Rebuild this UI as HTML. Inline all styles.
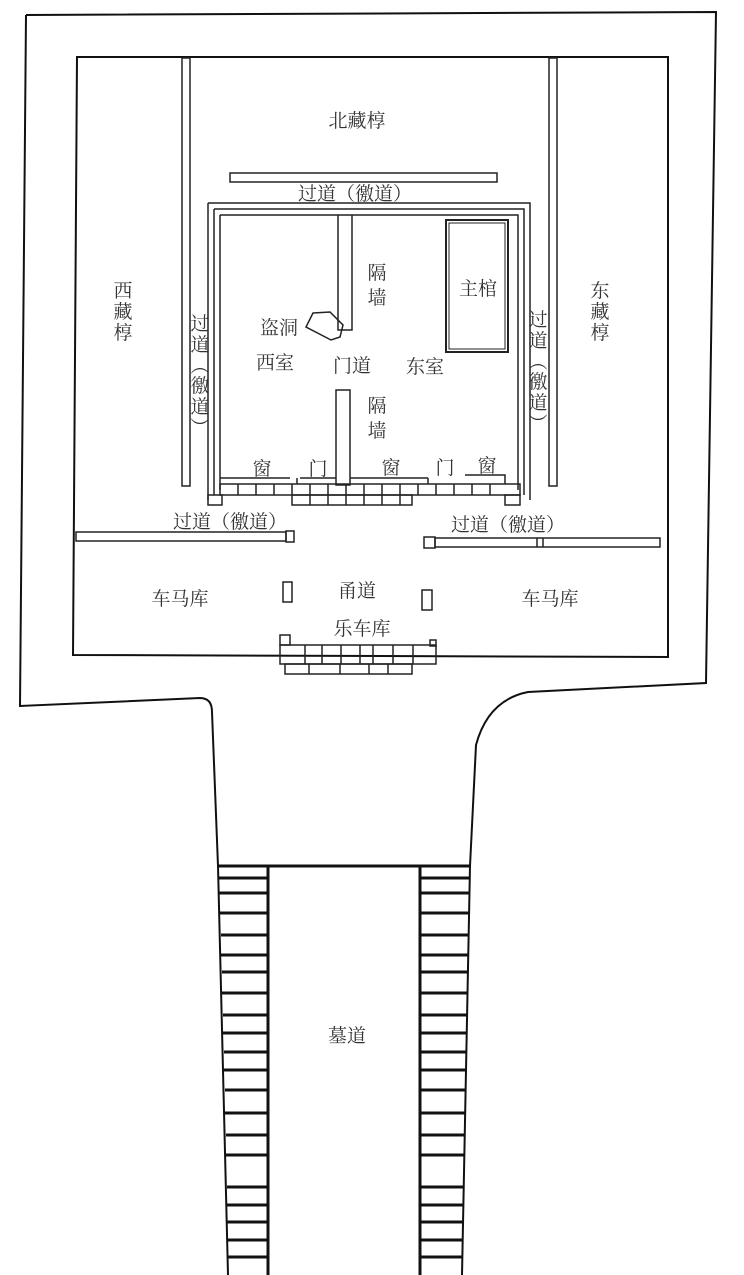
<!DOCTYPE html>
<html><head><meta charset="utf-8"><style>
html,body{margin:0;padding:0;background:#fff}
svg{display:block}
text{font-family:"Liberation Serif","Noto Serif CJK SC",serif;font-size:19px;fill:#333}
</style></head><body>
<svg width="744" height="1275" viewBox="0 0 744 1275" xmlns="http://www.w3.org/2000/svg">
<g fill="none" stroke="#111" stroke-width="2">
<path d="M26,15 L716,12 L706,683 L528,692 Q488,700 476,745 L470,866 L462,1275"/>
<path d="M26,15 L20,706 L200,698 Q212,698 212,712 L218,866 L228,1275"/>
<path d="M77,57 L668,57 L668,657 L73,655 Z"/>
</g>
<g fill="none" stroke="#222" stroke-width="1.5">
<rect x="182" y="58" width="8" height="428"/>
<rect x="549" y="58" width="8" height="428"/>
<rect x="230" y="173" width="267" height="9"/>
<path d="M208,203 L530,203 L530,500 M208,500 L208,203"/>
<path d="M214,209 L524,209 L524,495 M214,495 L214,209"/>
<path d="M220,215 L518,215 L518,490 M220,490 L220,215"/>
<rect x="446" y="220" width="62" height="132" stroke-width="2"/>
<rect x="449" y="223" width="56" height="126" stroke-width="1"/>
<path d="M338,215 L338,330 L352,330 L352,215"/>
<rect x="336" y="390" width="14" height="95"/>
<path d="M313,313 L330,312 L343,325 L340,337 L331,340 L306,327 Z"/>
<rect x="220" y="484" width="300" height="11"/>
<path d="M220,478 L290,478 M300,478 L336,478 M350,478 L428,478 M465,475 L505,475 L505,484 M297,478 L297,484 M428,478 L428,484"/>
<rect x="292" y="495" width="120" height="10"/>
<rect x="208" y="495" width="14" height="10"/>
<rect x="505" y="495" width="15" height="10"/>
<path d="M238,484v11M256,484v11M274,484v11M292,484v11M310,484v21M328,484v21M346,484v21M364,484v21M382,484v21M400,484v21M418,484v11M436,484v11M454,484v11M472,484v11M490,484v11"/>
<rect x="76" y="532" width="210" height="9"/>
<rect x="286" y="531" width="8" height="11"/>
<rect x="435" y="538" width="225" height="9"/>
<rect x="424" y="537" width="11" height="11"/>
<path d="M537,538v9M543,538v9"/>
<rect x="283" y="582" width="9" height="20"/>
<rect x="422" y="590" width="10" height="20"/>
<rect x="280" y="635" width="10" height="10"/>
<rect x="280" y="645" width="156" height="19"/>
<rect x="430" y="640" width="6" height="6"/>
<rect x="285" y="664" width="127" height="10"/>
<path d="M305,645v19M322,645v19M341,645v19M360,645v19M373,645v19M393,645v19M413,645v19M309,664v10M340,664v10M369,664v10M388,664v10"/>
</g>
<g fill="none" stroke="#111" stroke-width="3">
<path d="M218,866 L470,866"/>
<path d="M268,866 L268,1275"/>
<path d="M420,866 L420,1275"/>
<path d="M218,878H268M219,893H268M220,913H268M221,935H268M221,955H268M222,972H268M222,993H268M223,1015H268M223,1033H268M224,1052H268M224,1070H268M225,1090H268M225,1113H268M226,1135H268M226,1155H268M227,1187H268M227,1205H268M227,1222H268M228,1240H268M228,1257H268"/>
<path d="M420,878H470M420,893H469M420,913H469M420,935H468M420,955H468M420,972H467M420,993H467M420,1015H467M420,1033H466M420,1052H466M420,1070H466M420,1090H465M420,1113H465M420,1135H465M420,1155H464M420,1187H464M420,1205H463M420,1222H463M420,1240H463M420,1257H462"/>
</g>
<g text-anchor="middle">
<text x="357" y="127">北藏椁</text>
<text x="355" y="200">过道（徼道）</text>
<text x="123" y="297">西</text><text x="123" y="318">藏</text><text x="123" y="339">椁</text>
<text x="600" y="297">东</text><text x="600" y="318">藏</text><text x="600" y="339">椁</text>
<text x="200" y="330">过</text><text x="200" y="351">道</text><text x="200" y="372">︵</text><text x="200" y="392">徼</text><text x="200" y="413">道</text><text x="200" y="434">︶</text>
<text x="538" y="326">过</text><text x="538" y="347">道</text><text x="538" y="368">︵</text><text x="538" y="388">徼</text><text x="538" y="409">道</text><text x="538" y="430">︶</text>
<text x="377" y="279">隔</text><text x="377" y="304">墙</text>
<text x="377" y="412">隔</text><text x="377" y="437">墙</text>
<text x="279" y="334">盗洞</text>
<text x="275" y="369">西室</text>
<text x="352" y="372">门道</text>
<text x="425" y="373">东室</text>
<text x="478" y="295">主棺</text>
<text x="262" y="475">窗</text><text x="318" y="475">门</text><text x="391" y="474">窗</text><text x="445" y="474">门</text><text x="487" y="472">窗</text>
<text x="230" y="528">过道（徼道）</text>
<text x="508" y="531">过道（徼道）</text>
<text x="180" y="605">车马库</text>
<text x="550" y="605">车马库</text>
<text x="357" y="597">甬道</text>
<text x="362" y="635">乐车库</text>
<text x="347" y="1042">墓道</text>
</g>
</svg>
</body></html>
